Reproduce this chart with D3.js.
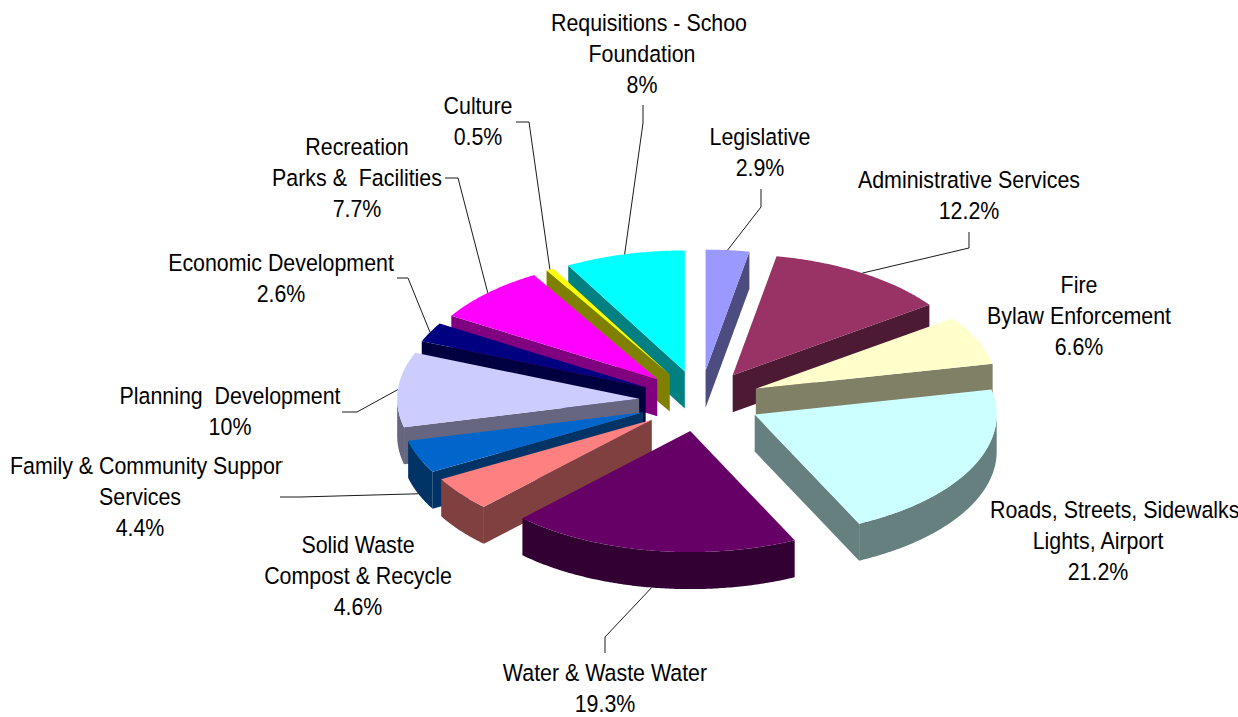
<!DOCTYPE html>
<html>
<head>
<meta charset="utf-8">
<script src="https://cdn.jsdelivr.net/npm/d3@7"></script>
<style>
body { margin: 0; background: #fff; }
text { font-family: 'Liberation Sans', Arial, sans-serif; font-size: 23.5px; fill: #000; white-space: pre; }
</style>
</head>
<body>
<script>
// budget shares, clockwise from 12 o'clock
const categories = ['Legislative', 'Administrative Services', 'Fire Bylaw Enforcement', 'Roads, Streets, Sidewalks Lights, Airport',
  'Water & Waste Water', 'Solid Waste Compost & Recycle', 'Family & Community Support Services', 'Planning  Development',
  'Economic Development', 'Recreation Parks &  Facilities', 'Culture', 'Requisitions - School Foundation']
const values = [2.9, 12.2, 6.6, 21.2, 19.3, 4.6, 4.4, 10, 2.6, 7.7, 0.5, 8]
const labelLines = [
  ['Legislative'],
  ['Administrative Services'],
  ['Fire', 'Bylaw Enforcement'],
  ['Roads, Streets, Sidewalks', 'Lights, Airport'],
  ['Water & Waste Water'],
  ['Solid Waste', 'Compost & Recycle'],
  ['Family & Community Support', 'Services'],
  ['Planning  Development'],
  ['Economic Development'],
  ['Recreation', 'Parks &  Facilities'],
  ['Culture'],
  ['Requisitions - School', 'Foundation']
]
const topColors = ['#9999ff', '#993366', '#ffffcc', '#ccffff', '#660066', '#ff8080', '#0066cc', '#ccccff', '#000080', '#ff00ff', '#ffff00', '#00ffff']
const sideColors = ['#4c4c80', '#4d1a33', '#808066', '#668080', '#330033', '#804040', '#003366', '#666680', '#000040', '#800080', '#808000', '#008080']

// label placement (layout only)
const labelLayout = [
  {x: 760, y: 145, leader: [[761, 189], [761, 207]]},
  {x: 969, y: 188, leader: [[969, 232], [969, 248]]},
  {x: 1079, y: 293},
  {x: 1098, y: 518, first: 990},
  {x: 605, y: 681, leader: [[605, 653], [605, 637]]},
  {x: 358, y: 553},
  {x: 140, y: 474, first: 10, clip: 283, leader: [[280, 497], [300, 497]]},
  {x: 230, y: 404, leader: [[342, 412], [357, 412]]},
  {x: 281, y: 271, leader: [[397, 278], [408, 278]]},
  {x: 357, y: 155, leader: [[445, 178], [458, 178]]},
  {x: 478, y: 114, leader: [[516, 122], [529, 122]]},
  {x: 642, y: 31, first: 551, clip: 748, leader: [[643, 105], [643, 123]]}
]

const width = 1238
const height = 717
const cx = 700, cy = 401
const rx = 242, ry = 121
const depth = 37
const explode = 61
const lineH = 31
const squeeze = 0.91

const svg = d3.select('body').append('svg').attr('width', width).attr('height', height)

const pie = d3.pie().sort(null).value(d => d)
const arcs = pie(values).map((d, i) => {
  const mid = (d.startAngle + d.endAngle) / 2
  d.i = i
  d.mid = mid
  d.ox = cx + explode * Math.sin(mid)
  d.oy = cy - explode * (ry / rx) * Math.cos(mid)
  return d
})

const rim = (d, a) => [d.ox + rx * Math.sin(a), d.oy - ry * Math.cos(a)]
const down = p => [p[0], p[1] + depth]
const line = d3.line()
const poly = pts => line(pts) + 'Z'

function arcPts(d, a0, a1) {
  const n = Math.max(2, Math.ceil((a1 - a0) / 0.01))
  return d3.range(n + 1).map(k => rim(d, a0 + (a1 - a0) * k / n))
}

// back slices first
const order = arcs.slice().sort((a, b) => -Math.cos(a.mid) + Math.cos(b.mid))

const pieGroup = svg.append('g')
order.forEach(d => {
  const g = pieGroup.append('g')
  const apex = [d.ox, d.oy]
  const a0 = d.startAngle, a1 = d.endAngle
  const side = sideColors[d.i]

  if (Math.sin(a0) < 0) {
    const p = rim(d, a0)
    g.append('path').attr('d', poly([apex, p, down(p), down(apex)])).attr('fill', side)
  }
  if (Math.sin(a1) > 0) {
    const p = rim(d, a1)
    g.append('path').attr('d', poly([apex, p, down(p), down(apex)])).attr('fill', side)
  }
  const t0 = Math.max(a0, Math.PI / 2), t1 = Math.min(a1, Math.PI * 1.5)
  if (t0 < t1) {
    const top = arcPts(d, t0, t1)
    g.append('path').attr('d', poly(top.concat(top.map(down).reverse()))).attr('fill', side)
  }
  g.append('path')
    .attr('d', poly([apex].concat(arcPts(d, a0, a1))))
    .attr('fill', topColors[d.i])
})

// leader lines
arcs.forEach(d => {
  const L = labelLayout[d.i]
  if (!L.leader) return
  let anchor = rim(d, d.mid)
  if (Math.cos(d.mid) < 0) anchor = down(anchor)
  svg.append('path')
    .attr('d', line(L.leader.concat([anchor])))
    .attr('fill', 'none')
    .attr('stroke', '#1a1a1a')
    .attr('stroke-width', 1)
})

// labels
const defs = svg.append('defs')
arcs.forEach(d => {
  const L = labelLayout[d.i]
  const lines = labelLines[d.i].concat([values[d.i] + '%'])
  let g = svg.append('g')
  lines.forEach((t, k) => {
    let holder = g
    if (k === 0 && L.clip) {
      const id = 'clip' + d.i
      defs.append('clipPath').attr('id', id)
        .append('rect').attr('x', 0).attr('y', 0).attr('width', L.clip).attr('height', height)
      holder = g.append('g').attr('clip-path', 'url(#' + id + ')')
    }
    const left = k === 0 && L.first !== undefined
    holder.append('text')
      .attr('transform', 'translate(' + (left ? L.first : L.x) + ',' + (L.y + k * lineH) + ') scale(' + squeeze + ',1)')
      .attr('text-anchor', left ? 'start' : 'middle')
      .text(t)
  })
})
</script>
</body>
</html>
